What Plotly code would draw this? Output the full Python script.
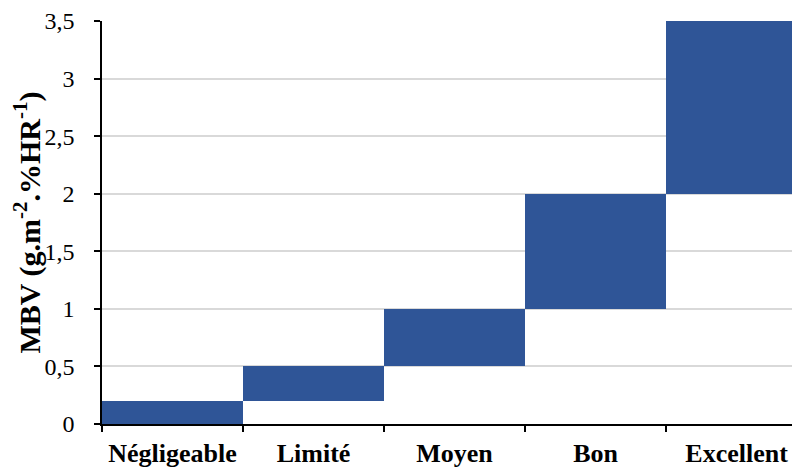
import plotly.graph_objects as go

categories = ["Négligeable", "Limité", "Moyen", "Bon", "Excellent"]
lower = [0, 0.2, 0.5, 1, 2]
upper = [0.2, 0.5, 1, 2, 3.5]
y_ticks = [0, 0.5, 1, 1.5, 2, 2.5, 3, 3.5]
y_tick_labels = ["0", "0,5", "1", "1,5", "2", "2,5", "3", "3,5"]

heights = [u - l for u, l in zip(upper, lower)]

fig = go.Figure()
fig.add_trace(go.Bar(
    x=categories, y=heights, base=lower, width=1,
    marker=dict(color="#2F5597", line=dict(width=0)),
    hoverinfo="skip",
))

font_family = "Liberation Serif, Times New Roman, serif"
fig.update_layout(
    width=792, height=467,
    margin=dict(l=94, r=0, t=8, b=51),
    paper_bgcolor="white", plot_bgcolor="white",
    showlegend=False, bargap=0,
    font=dict(family=font_family, size=22, color="black"),
)
fig.update_xaxes(
    range=[-0.5, 4.45],
    showline=True, linecolor="black", linewidth=1.5,
    ticks="outside", tickson="boundaries", ticklen=6, tickcolor="black", tickwidth=1.5,
    tickfont=dict(family=font_family, size=26, color="black", weight="bold"),
    ticklabelstandoff=5, ticklabeloverflow="allow",
    showgrid=False,
)
fig.update_yaxes(
    range=[0, 3.5],
    tickvals=y_ticks, ticktext=y_tick_labels,
    showline=True, linecolor="black", linewidth=1.5,
    ticks="outside", ticklen=6, tickcolor="black", tickwidth=1.5,
    tickfont=dict(family=font_family, size=24, color="black"),
    ticklabelstandoff=15, ticklabeloverflow="allow",
    showgrid=True, gridcolor="#d9d9d9", gridwidth=1.5,
    zeroline=False,
    title=dict(text="MBV (g.m<sup>-2</sup>.%HR<sup>-1</sup>)",
               font=dict(family=font_family, size=30, color="black", weight="bold"),
               standoff=1),
)

fig.write_html("out.html")
